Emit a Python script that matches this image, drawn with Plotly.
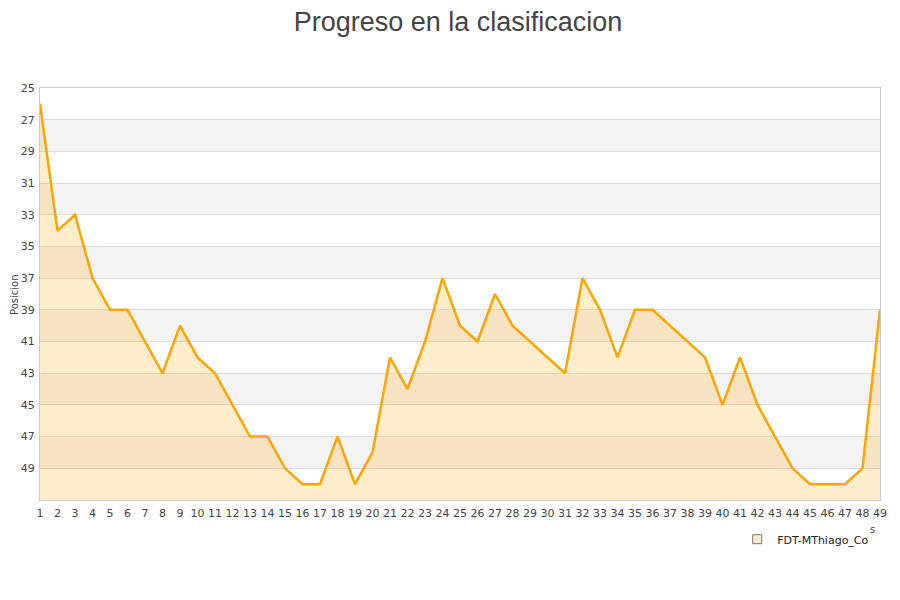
import plotly.graph_objects as go

# Jornadas y posiciones
jornadas = list(range(1, 50))
posiciones = [26, 34, 33, 37, 39, 39, 41, 43, 40, 42,
              43, 45, 47, 47, 49, 50, 50, 47, 50, 48,
              42, 44, 41, 37, 40, 41, 38, 40, 41, 42,
              43, 37, 39, 42, 39, 39, 40, 41, 42, 45,
              42, 45, 47, 49, 50, 50, 50, 49, 39]
y_ticks = list(range(25, 50, 2))
y_floor = 51
equipo = "FDT-MThiago_Co"

fig = go.Figure()

# base invisible para rellenar hasta el fondo del eje invertido
fig.add_trace(go.Scatter(
    x=jornadas, y=[y_floor] * len(jornadas),
    mode="lines", line=dict(width=0), showlegend=False, hoverinfo="skip"
))
fig.add_trace(go.Scatter(
    x=jornadas, y=posiciones, mode="lines",
    line=dict(color="#FFA500", width=2.5),
    fill="tonexty", fillcolor="rgba(255,165,0,0.2)",
    showlegend=False, name=equipo
))
# entrada de leyenda
fig.add_trace(go.Scatter(
    x=[None], y=[None], mode="markers", name=equipo,
    marker=dict(symbol="square", size=9, color="#FFEBC8",
                line=dict(color="#777777", width=1))
))

# bandas alternas
shapes = []
for i in range(1, len(y_ticks) - 1, 2):
    shapes.append(dict(type="rect", xref="paper", yref="y", x0=0, x1=1,
                       y0=y_ticks[i], y1=y_ticks[i + 1],
                       fillcolor="#f3f3f3", line=dict(width=0), layer="below"))

fig.update_layout(
    width=900, height=600,
    margin=dict(l=32, r=28, t=80, b=108),
    paper_bgcolor="white", plot_bgcolor="white",
    font=dict(family="DejaVu Sans", size=11, color="#444444"),
    title=dict(text="Progreso en la clasificacion", x=0.5, xanchor="center",
               y=1.0, yanchor="top", pad=dict(t=4),
               font=dict(family="Liberation Sans", size=27, color="#444444")),
    shapes=shapes,
    legend=dict(x=0.83, y=-0.06, xanchor="left", yanchor="top",
                font=dict(size=11, color="#222222"), bgcolor="rgba(0,0,0,0)"),
    annotations=[
        dict(text="Posicion", xref="paper", yref="paper", x=-0.031, y=0.5,
             xanchor="center", yanchor="middle",
             textangle=-90, showarrow=False, font=dict(size=10, color="#444444")),
        dict(text="s", xref="paper", yref="paper", x=0.997, y=-0.09,
             showarrow=False, font=dict(size=10, color="#444444")),
    ],
)
fig.update_xaxes(
    range=[1, 49], tickmode="array", tickvals=jornadas,
    showgrid=False, showline=True, linecolor="#cccccc", mirror=True,
    ticks="", zeroline=False, tickfont=dict(size=11), ticklabelstandoff=3
)
fig.update_yaxes(
    range=[y_floor, 25], tickmode="array", tickvals=y_ticks,
    showgrid=True, gridcolor="#dddddd", gridwidth=1, automargin=False,
    showline=True, linecolor="#cccccc", mirror=True, zeroline=False,
    tickfont=dict(size=11), ticks="", ticklabelstandoff=2
)

fig.write_html("out.html")
